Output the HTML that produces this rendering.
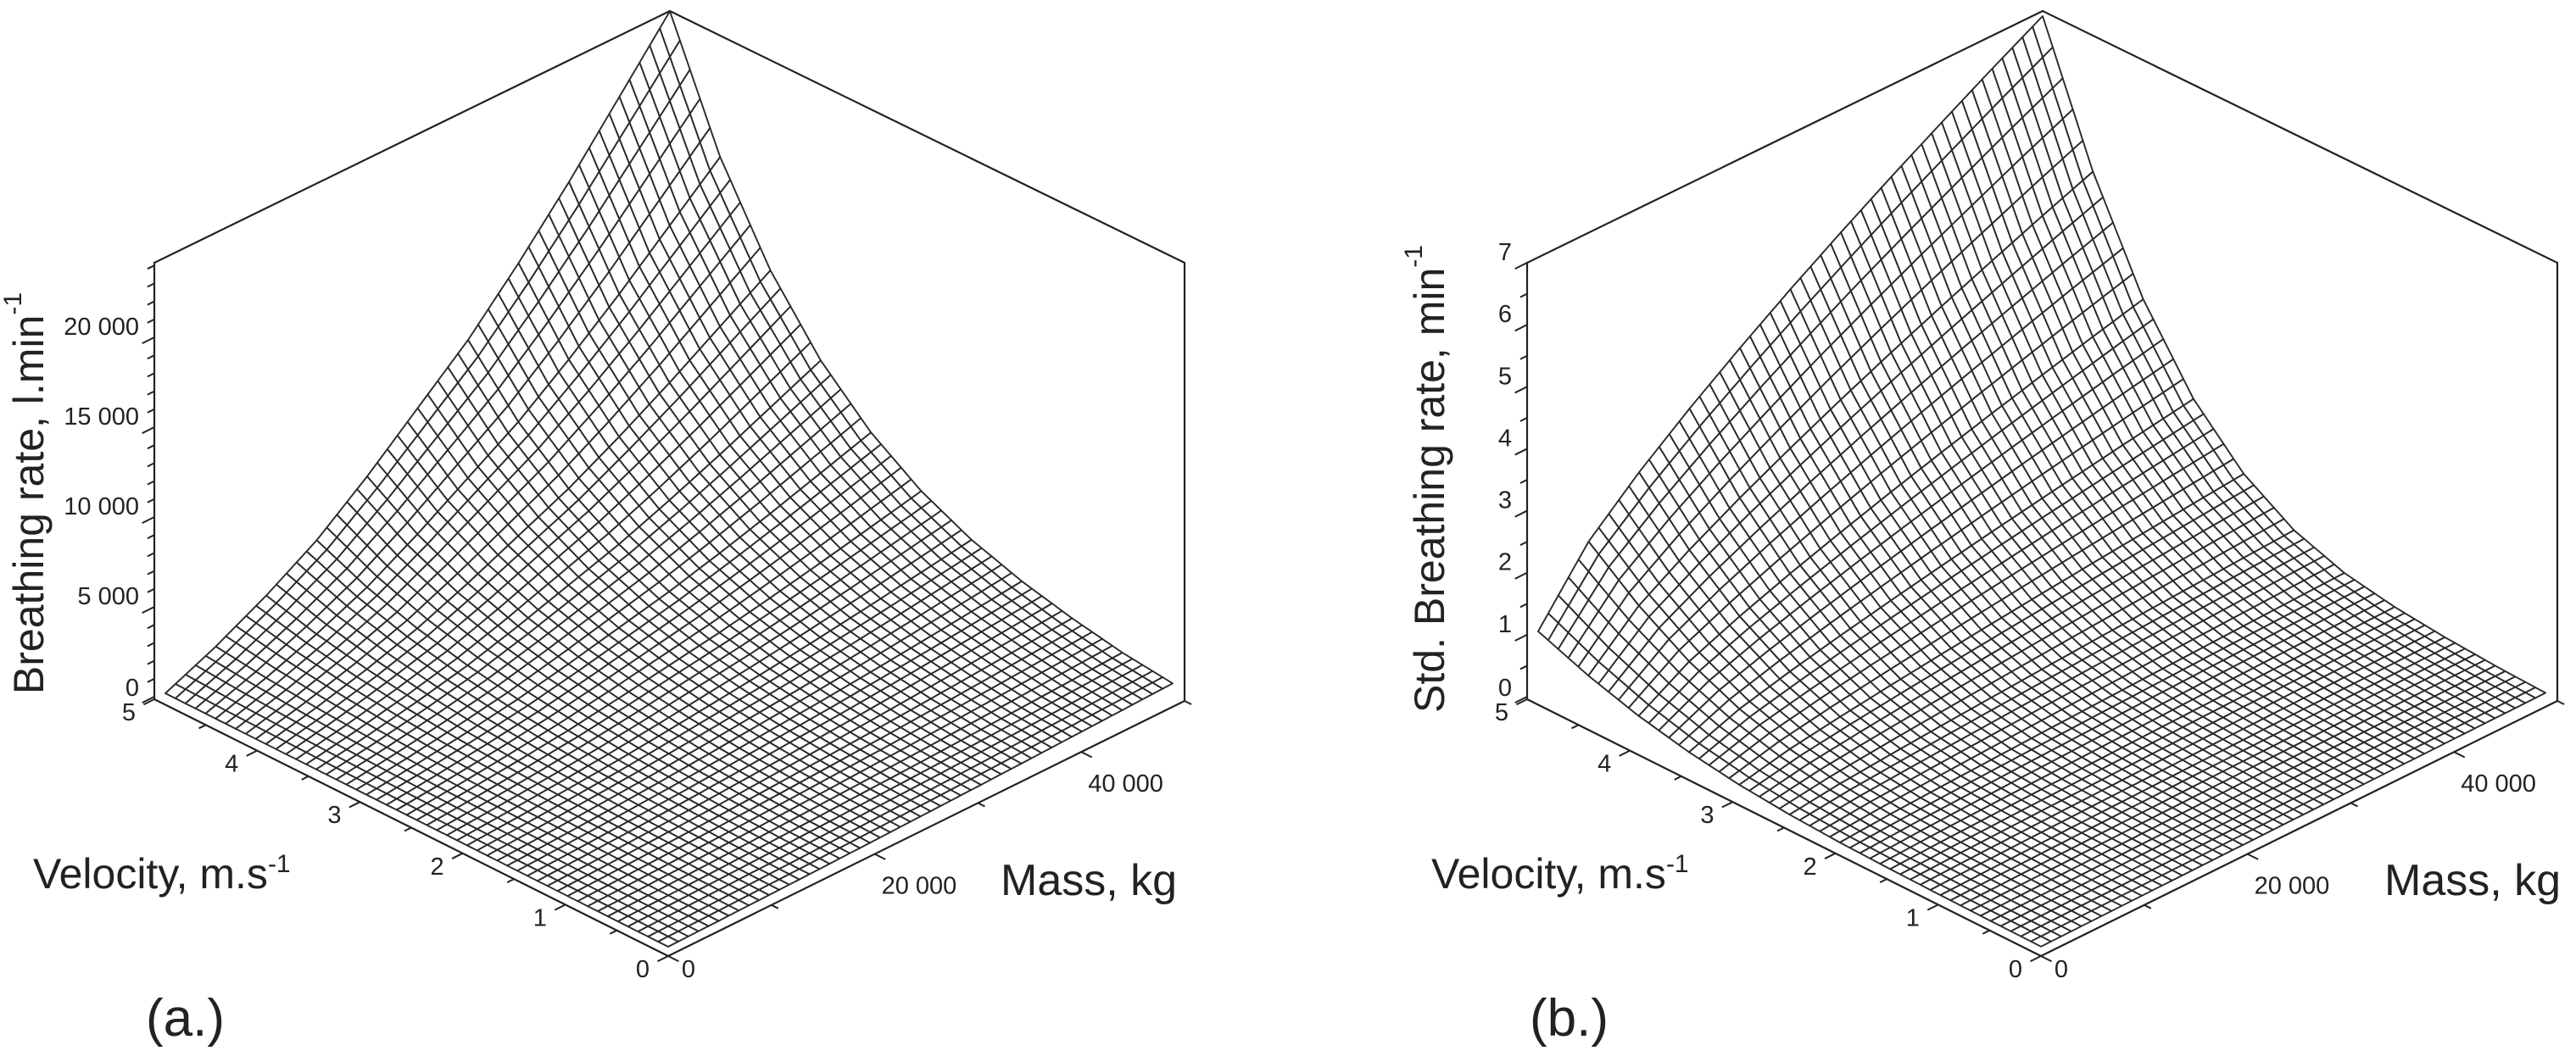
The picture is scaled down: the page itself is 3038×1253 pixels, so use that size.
<!DOCTYPE html>
<html><head><meta charset="utf-8"><style>
html,body{margin:0;padding:0;background:#fff}
svg{display:block}
text{font-family:"Liberation Sans",Arial,sans-serif;fill:#222}
</style></head><body>
<svg id="fig" width="3038" height="1253" viewBox="0 0 3038 1253" xmlns="http://www.w3.org/2000/svg">
<g id="panelA"></g>
<g id="panelB"></g>
</svg>
<script>
// ---- shared grid data ----
const velocityGrid = [0,0.5,1,1.5,2,2.5,3,3.5,4,4.5,5];          // m/s
const massGrid = [0,5000,10000,15000,20000,25000,30000,35000,40000,45000,50000]; // kg
const velocityTicks = [0,1,2,3,4,5];
const massTickLabels = [0,20000,40000];
// ---- panel a data (breathing rate, l/min) ----
const rateA_atMaxMass = [600,900,1400,2050,2950,4250,6100,8700,12300,17200,23900];
const rateA_atMaxVelocity = [0,1200,2630,4300,6450,8840,11230,14100,17210,20550,23900];
const zTicksA = [0,5000,10000,15000,20000];
const zTickLabelsA = ["0","5 000","10 000","15 000","20 000"];
// ---- panel b data (std breathing rate, 1/min) ----
const rateB_atMaxMass = [0.02,0.05,0.1,0.18,0.32,0.6,1.1,1.9,3.1,4.75,6.85];
const rateB_atMaxVelocity = [1.0,2.04,2.75,3.37,3.94,4.48,4.99,5.48,5.95,6.41,6.85];
const zTicksB = [0,1,2,3,4,5,6,7];
const zTickLabelsB = ["0","1","2","3","4","5","6","7"];

const NS="http://www.w3.org/2000/svg";
function mk(tag,attrs,parent){const e=document.createElementNS(NS,tag);for(const k in attrs)e.setAttribute(k,attrs[k]);parent.appendChild(e);return e;}
function interp(xs,ys,x){if(x<=xs[0])return ys[0];for(let i=1;i<xs.length;i++){if(x<=xs[i]){const t=(x-xs[i-1])/(xs[i]-xs[i-1]);return ys[i-1]+t*(ys[i]-ys[i-1]);}}return ys[ys.length-1];}
function fmtMass(v){return v===0?"0":String(v).replace(/(\d+)(\d{3})$/,"$1 $2");}

function drawPanel(g,cfg){
  const dx=cfg.dx;
  const vMax=5,mMax=50000;
  const F=[788+dx,1128],L=[182+dx,825],R=[1397+dx,827];
  const Fs=[788+dx,1117],Ls=[195+dx,818],Rs=[1383+dx,819];
  const z0=822, zTop=310, zs=(z0-zTop)/cfg.zMax;
  const sx=(v,m)=>Fs[0]+v/vMax*(Ls[0]-Fs[0])+m/mMax*(Rs[0]-Fs[0]);
  const sy=(v,m,z)=>Fs[1]+v/vMax*(Ls[1]-Fs[1])+m/mMax*(Rs[1]-Fs[1])-z*zs;
  const peak=cfg.atMaxMass[cfg.atMaxMass.length-1];
  const zf=(v,m)=>interp(velocityGrid,cfg.atMaxMass,v)*interp(massGrid,cfg.atMaxVelocity,m)/peak;
  const frame=mk('g',{},g);
  
  
  const st={stroke:'#222','stroke-width':2.2,fill:'none'};
  const apex=[790+dx,13];
  mk('polyline',Object.assign({points:`${L[0]},${L[1]} ${L[0]},${zTop} ${apex[0]},${apex[1]} ${R[0]},${zTop} ${R[0]},${R[1]}`},st),frame);
  mk('line',Object.assign({x1:F[0],y1:F[1],x2:L[0],y2:L[1]},st),frame);
  mk('line',Object.assign({x1:F[0],y1:F[1],x2:R[0],y2:R[1]},st),frame);
  const surf=mk('g',{fill:'#fff',stroke:'#2a2a2a','stroke-width':1.9,'stroke-linejoin':'round'},g);
  
  
  const N=50;
  const P=[];
  for(let i=0;i<=N;i++){P.push([]);for(let j=0;j<=N;j++){const v=vMax*i/N,m=mMax*j/N;P[i].push([sx(v,m),sy(v,m,zf(v,m))]);}}
  for(let s=2*N-2;s>=0;s--){
    for(let i=Math.max(0,s-(N-1));i<=Math.min(N-1,s);i++){
      const j=s-i;
      const a=P[i][j],b=P[i+1][j],c=P[i+1][j+1],d=P[i][j+1];
      const q=mk('polygon',{points:`${a[0].toFixed(1)},${a[1].toFixed(1)} ${b[0].toFixed(1)},${b[1].toFixed(1)} ${c[0].toFixed(1)},${c[1].toFixed(1)} ${d[0].toFixed(1)},${d[1].toFixed(1)}`},surf);
      
      
    }
  }
  const zt=mk('g',{stroke:'#222','stroke-width':2},g);
  
  
  const ux=-0.895,uy=0.447;
  const minorStep=cfg.zMinor;
  for(let z=0;z<=cfg.zMax+1e-9;z+=minorStep){
    const y=z0-z*zs;const major=cfg.zTicks.some(t=>Math.abs(t-z)<1e-6);
    const len=major?16:9;
    mk('line',{x1:L[0],y1:y,x2:L[0]+ux*len,y2:y+uy*len},zt);
  }
  cfg.zTicks.forEach((t,k)=>{
    const y=z0-t*zs;
    const tx=mk('text',{x:L[0]-18,y:y-(t===0?10:12),'text-anchor':'end','dominant-baseline':'central','font-size':29},g);
    tx.textContent=cfg.zTickLabels[k];
    
    
  });
  const vt=mk('g',{stroke:'#222','stroke-width':2},g);
  
  
  for(let v=0;v<=5;v+=0.5){
    const x=F[0]+v/5*(L[0]-F[0]),y=F[1]+v/5*(L[1]-F[1]);
    const len=(v%1===0)?14:9;
    mk('line',{x1:x,y1:y,x2:x-0.895*len,y2:y+0.447*len},vt);
  }
  velocityTicks.forEach(v=>{
    const x=F[0]+v/5*(L[0]-F[0]),y=F[1]+v/5*(L[1]-F[1]);
    const tx=mk('text',{x:x-30,y:y+16,'text-anchor':'middle','dominant-baseline':'central','font-size':29},g);
    tx.textContent=String(v);
    
    
  });
  const mt=mk('g',{stroke:'#222','stroke-width':2},g);
  
  
  for(let m=0;m<=50000;m+=10000){
    const x=F[0]+m/mMax*(R[0]-F[0]),y=F[1]+m/mMax*(R[1]-F[1]);
    const len=(m%20000===0)?14:9;
    mk('line',{x1:x,y1:y,x2:x+0.895*len,y2:y+0.447*len},mt);
  }
  massTickLabels.forEach(m=>{
    const x=F[0]+m/mMax*(R[0]-F[0]),y=F[1]+m/mMax*(R[1]-F[1]);
    const tx=mk('text',{x:m===0?x+24:x+8,y:y+(m===0?16:38),'text-anchor':m===0?'middle':'start','dominant-baseline':'central','font-size':29},g);
    tx.textContent=fmtMass(m);
    
    
  });
  const zt2=mk('text',{x:0,y:0,transform:`translate(${cfg.zTitleX},${cfg.zTitleY}) rotate(-90)`,'text-anchor':'middle','dominant-baseline':'central','font-size':50},g);
  zt2.innerHTML=cfg.zTitle+'<tspan dy="-19" font-size="30">-1</tspan>';
  
  
  const vtt=mk('text',{x:cfg.vTitleX,y:1048,'font-size':50},g);
  vtt.innerHTML='Velocity, m.s<tspan dy="-19" font-size="30">-1</tspan>';
  
  
  const mtt=mk('text',{x:cfg.mTitleX,y:1056,'font-size':52},g);
  mtt.textContent='Mass, kg';
  
  
  const lab=mk('text',{x:cfg.labX,y:1222,'font-size':62},g);
  lab.textContent=cfg.label;
  
  
}

drawPanel(document.getElementById('panelA'),{dx:0,zMax:24150,zMinor:1000,zTicks:zTicksA,zTickLabels:zTickLabelsA,
  atMaxMass:rateA_atMaxMass,atMaxVelocity:rateA_atMaxVelocity,zTitle:'Breathing rate, l.min',zTitleX:34,zTitleY:582,
  vTitleX:39,mTitleX:1180,labX:172,label:'(a.)'});
drawPanel(document.getElementById('panelB'),{dx:1619,zMax:7,zMinor:0.5,zTicks:zTicksB,zTickLabels:zTickLabelsB,
  atMaxMass:rateB_atMaxMass,atMaxVelocity:rateB_atMaxVelocity,zTitle:'Std. Breathing rate, min',zTitleX:1686,zTitleY:565,
  vTitleX:1688,mTitleX:2812,labX:1804,label:'(b.)'});
</script>
</body></html>
